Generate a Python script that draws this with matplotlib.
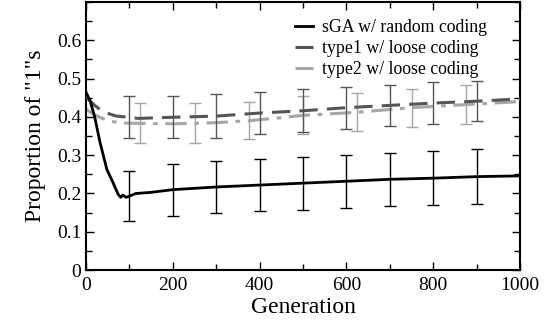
import matplotlib
matplotlib.use('Agg')
import matplotlib.pyplot as plt
from matplotlib.ticker import MultipleLocator

plt.rcParams['font.family'] = ['Liberation Serif', 'DejaVu Serif']

# mean curves
gen_sga = [0, 10, 20, 32, 48, 62, 74, 80, 85, 92, 100, 115, 150, 200, 300, 400, 500, 600, 700, 800, 900, 1000]
sga = [0.465, 0.44, 0.40, 0.335, 0.263, 0.229, 0.198, 0.19, 0.196, 0.19, 0.193, 0.2, 0.203, 0.21, 0.217, 0.222, 0.227, 0.232, 0.237, 0.240, 0.244, 0.246]

gen_t1 = [0, 20, 40, 70, 100, 120, 200, 300, 400, 500, 600, 700, 800, 900, 1000]
type1 = [0.452, 0.43, 0.413, 0.402, 0.399, 0.396, 0.399, 0.402, 0.41, 0.416, 0.424, 0.43, 0.436, 0.441, 0.447]

gen_t2 = [0, 20, 50, 80, 125, 200, 250, 300, 375, 450, 500, 625, 750, 875, 1000]
type2 = [0.42, 0.405, 0.39, 0.384, 0.383, 0.382, 0.383, 0.385, 0.39, 0.398, 0.404, 0.412, 0.424, 0.432, 0.44]

# error bars
eb_gen = [100, 200, 300, 400, 500, 600, 700, 800, 900]
sga_eb = [0.193, 0.21, 0.217, 0.222, 0.227, 0.232, 0.237, 0.240, 0.244]
sga_err = [0.066, 0.068, 0.068, 0.068, 0.069, 0.069, 0.069, 0.07, 0.071]
t1_eb = [0.399, 0.399, 0.402, 0.41, 0.416, 0.424, 0.43, 0.436, 0.441]
t1_err = [0.055, 0.055, 0.058, 0.055, 0.056, 0.055, 0.054, 0.054, 0.053]

eb_gen2 = [125, 250, 375, 500, 625, 750, 875]
t2_eb = [0.383, 0.383, 0.39, 0.404, 0.412, 0.424, 0.432]
t2_err = [0.052, 0.052, 0.048, 0.05, 0.05, 0.05, 0.05]

c_t1 = '#555555'
c_t2 = '#a6a6a6'

fig = plt.figure(figsize=(5.53, 3.27), dpi=100)
ax = fig.add_axes([0.1555, 0.174, 0.785, 0.82])

ax.plot(gen_t2, type2, color=c_t2, lw=2.2, dashes=(7, 2.5, 1.5, 2.5), label='type2 w/ loose coding', zorder=2)
ax.plot(gen_t1, type1, color=c_t1, lw=2.2, dashes=(6, 3), label='type1 w/ loose coding', zorder=3)
ax.plot(gen_sga, sga, color='black', lw=2, label='sGA w/ random coding', zorder=4)

ax.errorbar(eb_gen2, t2_eb, yerr=t2_err, fmt='none', ecolor=c_t2, elinewidth=1, capsize=4, capthick=1, zorder=2)
ax.errorbar(eb_gen, t1_eb, yerr=t1_err, fmt='none', ecolor=c_t1, elinewidth=1, capsize=4, capthick=1, zorder=3)
ax.errorbar(eb_gen, sga_eb, yerr=sga_err, fmt='none', ecolor='black', elinewidth=1, capsize=4, capthick=1, zorder=4)

ax.set_xlim(0, 1000)
ax.set_ylim(0, 0.7)
ax.xaxis.set_minor_locator(MultipleLocator(100))
ax.yaxis.set_minor_locator(MultipleLocator(0.05))
ax.set_xticks([0, 200, 400, 600, 800, 1000])
ax.set_xticklabels(['0', '200', '400', '600', '800', '1000'])
ax.set_yticks([0, 0.1, 0.2, 0.3, 0.4, 0.5, 0.6])
ax.set_yticklabels(['0', '0.1', '0.2', '0.3', '0.4', '0.5', '0.6'])
ax.tick_params(which='both', direction='in', top=True, right=True, labelsize=14)
ax.tick_params(which='major', length=6, width=1)
ax.tick_params(which='minor', length=4, width=1)
ax.tick_params(axis='x', pad=5)
for s in ax.spines.values():
    s.set_linewidth(1.5)

ax.set_xlabel('Generation', fontsize=17, labelpad=2)
ax.set_ylabel('Proportion of "1"s', fontsize=17, labelpad=8)

h, l = ax.get_legend_handles_labels()
order = [2, 1, 0]
leg = ax.legend([h[i] for i in order], [l[i] for i in order], loc='upper right',
                bbox_to_anchor=(0.96, 0.995), frameon=False, fontsize=12.8,
                handlelength=1.0, handletextpad=0.5, labelspacing=0.22)

fig.savefig('out.png', dpi=100)
